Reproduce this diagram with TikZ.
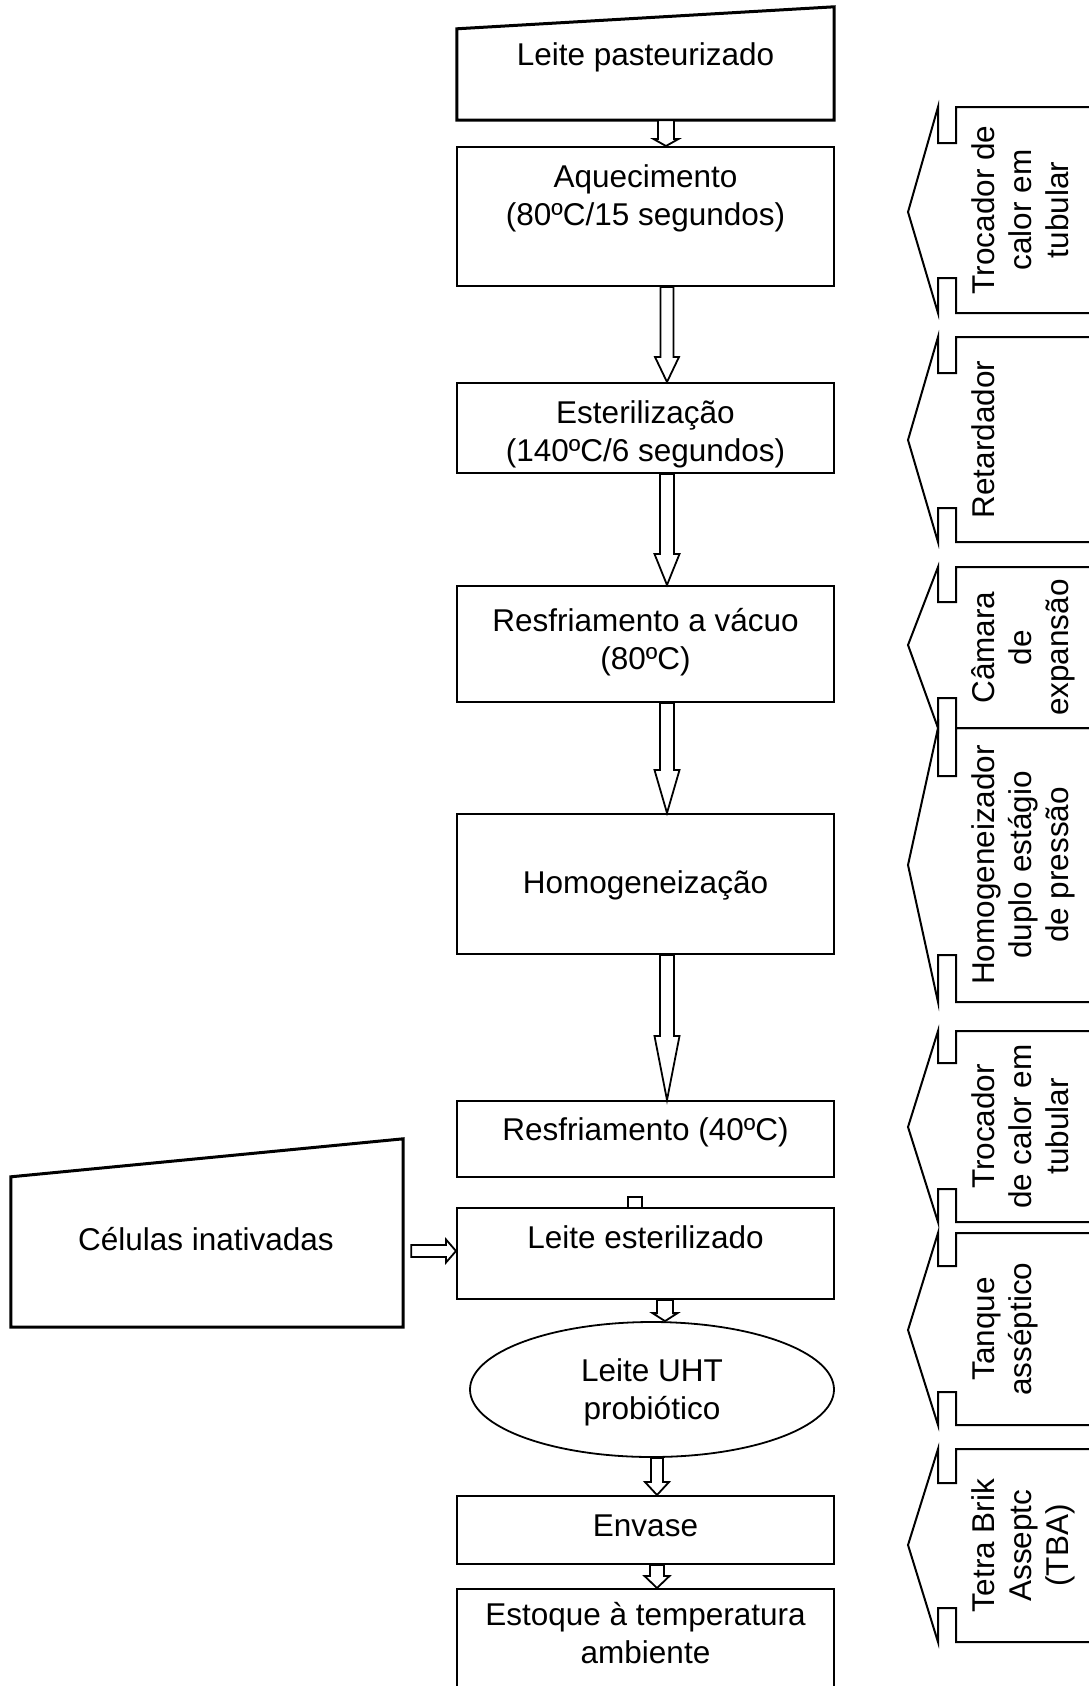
\documentclass[tikz,border=0pt]{standalone}
\usepackage{fontspec}
\setmainfont{Liberation Sans}
\usetikzlibrary{shapes.geometric,calc}

\tikzset{
  box/.style={draw, line width=2pt, fill=white, inner sep=0pt, minimum width=377pt},
  frame/.style={inner sep=0pt},
  flowtext/.style={font=\fontsize{31.5}{38}\selectfont, align=center, inner sep=0pt, anchor=north},
  sidetext/.style={font=\fontsize{31.5}{37}\selectfont, align=center, inner sep=0pt, anchor=north, rotate=90},
  blockarrow/.style={draw, line width=1.8pt, fill=white, line join=miter},
  sideline/.style={draw, line width=2pt, line join=miter},
  slanted/.style={draw, line width=3pt, line join=miter},
}

% hollow block arrow pointing down: from, to, centre x, shaft half width, head half width, head length
\newcommand\downblock[6]{%
  \draw[blockarrow] let \p1=(#1.south), \p2=(#2.north) in
    (#3pt-#4pt,\y1) -- (#3pt-#4pt,\y2+#6pt) -- (#3pt-#5pt,\y2+#6pt) -- (#3pt,\y2)
    -- (#3pt+#5pt,\y2+#6pt) -- (#3pt+#4pt,\y2+#6pt) -- (#3pt+#4pt,\y1) -- cycle;}

% equipment bracket on the right: top, upper tab end, tip y, lower tab start, bottom
\newcommand\sidecallout[5]{%
  \draw[sideline] (1092,#1) -- (956,#1) -- (956,#2) -- (938,#2) -- (938,#1)
    -- (908,#3) -- (938,#5) -- (938,#4) -- (956,#4) -- (956,#5) -- (1092,#5);}

\begin{document}
\begin{tikzpicture}[x=1pt,y=-1pt]
\useasboundingbox (0,0) rectangle (1089,1686);

% main process steps
\node[frame, minimum width=377pt, minimum height=91pt] (lp) at (645.5,74.5) {};
\draw[slanted] (lp.south west) -- (lp.south east) -- ([yshift=22pt]lp.north east) -- (lp.north west) -- cycle;

\node[box, minimum height=139pt] (aq)  at (645.5,216.5) {};
\node[box, minimum height=90pt]  (est) at (645.5,428) {};
\node[box, minimum height=116pt] (rv)  at (645.5,644) {};
\node[box, minimum height=140pt] (hom) at (645.5,884) {};
\node[box, minimum height=76pt]  (r40) at (645.5,1139) {};
\node[box, minimum height=91pt]  (le)  at (645.5,1253.5) {};
\node[draw, line width=1.8pt, ellipse, inner sep=0pt, minimum width=364pt, minimum height=135pt] (ell) at (652,1389.5) {};
\node[box, minimum height=68pt]  (env) at (645.5,1530) {};
\node[box, minimum height=200pt] (sto) at (645.5,1689) {};

% added cells
\node[frame, minimum width=392pt, minimum height=150pt] (cel) at (207,1252) {};
\draw[slanted] (cel.south west) -- (cel.south east) -- ([yshift=38pt]cel.north east) -- (cel.north west) -- cycle;

% texts
\node[flowtext] (lpt)  at (645.5,38.4)   {\strut Leite pasteurizado};
\node[flowtext] (aqt)  at (645.5,160.4)  {\strut Aquecimento\\(80ºC/15 segundos)};
\node[flowtext] (estt) at (645.5,396.4)  {\strut Esterilização\\(140ºC/6 segundos)};
\node[flowtext] (rvt)  at (645.5,604.4)  {\strut Resfriamento a vácuo\\(80ºC)};
\node[flowtext] (homt) at (645.5,866.4)  {\strut Homogeneização};
\node[flowtext] (r40t) at (645.5,1113.4) {\strut Resfriamento (40ºC)};
\node[flowtext] (let)  at (645.5,1221.4) {\strut Leite esterilizado};
\node[flowtext] (celt) at (206,1223.4)   {\strut Células inativadas};
\node[flowtext] (ellt) at (652,1354.4)   {\strut Leite UHT\\probiótico};
\node[flowtext] (envt) at (645.5,1509.4) {\strut Envase};
\node[flowtext] (stot) at (645.5,1598.4) {\strut Estoque à temperatura\\ambiente};

% block arrows between steps
\downblock{lp}{aq}{666}{8}{12.5}{7}
\downblock{aq}{est}{667}{6.5}{12}{25}
\downblock{est}{rv}{667}{7}{12.5}{31}
\downblock{rv}{hom}{667}{7}{12.5}{43}
\downblock{hom}{r40}{667}{7}{12.5}{64}
\draw[blockarrow, fill=none] let \p2=(le.north) in
  (628pt,\y2) -- (628pt,\y2+10pt) -- (642pt,\y2+10pt) -- (642pt,\y2);
\downblock{le}{ell}{665}{8}{12.5}{8}
\downblock{ell}{env}{657}{6}{12}{13}
\downblock{env}{sto}{657}{7}{12.5}{12}
\draw[blockarrow] let \p1=(cel.east), \p2=(le.west) in
  (\x1+8pt,\y2+8.5pt) -- (\x2-10pt,\y2+8.5pt) -- (\x2-10pt,\y2+14pt) -- (\x2,\y2+2.5pt)
  -- (\x2-10pt,\y2-9pt) -- (\x2-10pt,\y2-3.5pt) -- (\x1+8pt,\y2-3.5pt) -- cycle;

% equipment brackets
\sidecallout{107}{143}{212}{278}{313}
\sidecallout{337}{373}{440}{508}{542}
\sidecallout{567}{602}{645}{698}{728}
\sidecallout{728}{776}{865}{955}{1002}
\sidecallout{1031}{1063}{1127}{1189}{1222}
\sidecallout{1233}{1266}{1330}{1392}{1425}
\sidecallout{1449}{1483}{1545}{1608}{1642}

\node[sidetext] (s1) at (968.4,210)    {\strut Trocador de\\calor em\\tubular};
\node[sidetext] (s2) at (968.4,439.5)  {\strut Retardador};
\node[sidetext] (s3) at (968.4,647.5)  {\strut Câmara\\de\\expansão};
\node[sidetext] (s4) at (968.4,865)    {\strut Homogeneizador\\duplo estágio\\de pressão};
\node[sidetext] (s5) at (968.4,1126.5) {\strut Trocador\\de calor em\\tubular};
\node[sidetext] (s6) at (968.4,1329)   {\strut Tanque\\asséptico};
\node[sidetext] (s7) at (968.4,1545.5) {\strut Tetra Brik\\Asseptc\\(TBA)};
\end{tikzpicture}
\end{document}
